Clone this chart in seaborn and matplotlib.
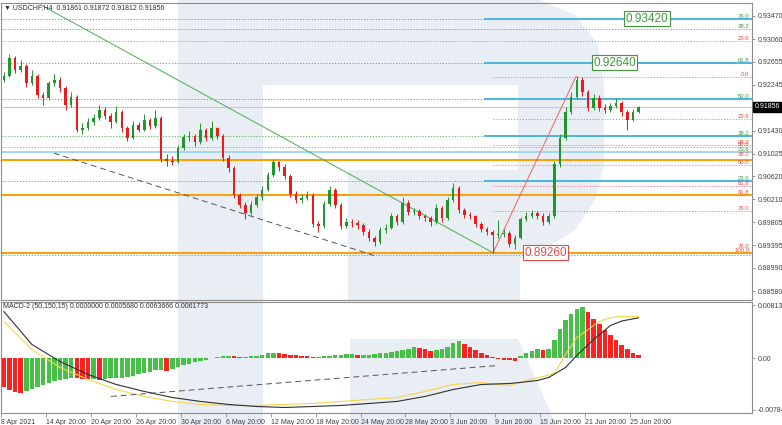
import numpy as np
import pandas as pd
import matplotlib
matplotlib.use("Agg")
import matplotlib.pyplot as plt
from matplotlib.patches import Polygon
import seaborn as sns

# ---------------- data ----------------
first_open = 0.92330
close = [0.92403, 0.92723, 0.92510, 0.92581, 0.92278, 0.92403, 0.92065, 0.92012, 0.92278, 0.92332,
         0.92190, 0.91887, 0.92030, 0.91443, 0.91478, 0.91585, 0.91656, 0.91798, 0.91692, 0.91585,
         0.91763, 0.91478, 0.91301, 0.91532, 0.91443, 0.91621, 0.91514, 0.91656, 0.90930, 0.90890,
         0.90874, 0.91123, 0.91318, 0.91336, 0.91230, 0.91443, 0.91301, 0.91478, 0.91336, 0.90945,
         0.90767, 0.90287, 0.90109, 0.89967, 0.90109, 0.90252, 0.90376, 0.90643, 0.90874, 0.90785,
         0.90625, 0.90305, 0.90198, 0.90234, 0.90287, 0.89771, 0.89736, 0.90127, 0.90376, 0.90109,
         0.89736, 0.89807, 0.89789, 0.89754, 0.89629, 0.89523, 0.89452, 0.89665, 0.89700, 0.89913,
         0.89807, 0.90145, 0.89985, 0.90000, 0.89913, 0.89878, 0.89807, 0.90056, 0.89878, 0.90198,
         0.90411, 0.90020, 0.89931, 0.89913, 0.89771, 0.89683, 0.89629, 0.89576, 0.89594, 0.89610,
         0.89416, 0.89523, 0.89860, 0.89913, 0.89967, 0.89913, 0.89807, 0.89913, 0.90838, 0.91301,
         0.91763, 0.92030, 0.92332, 0.92118, 0.91834, 0.92012, 0.91834, 0.91798, 0.91869, 0.91923,
         0.91763, 0.91621, 0.91763, 0.91856]
high = [0.92470, 0.92790, 0.92760, 0.92680, 0.92620, 0.92510, 0.92440, 0.92120, 0.92310, 0.92440,
        0.92380, 0.92230, 0.92120, 0.92070, 0.91560, 0.91660, 0.91730, 0.91880, 0.91850, 0.91740,
        0.91870, 0.91800, 0.91520, 0.91600, 0.91580, 0.91720, 0.91660, 0.91800, 0.91700, 0.91020,
        0.90980, 0.91180, 0.91380, 0.91420, 0.91380, 0.91560, 0.91480, 0.91600, 0.91500, 0.91370,
        0.90990, 0.90800, 0.90330, 0.90160, 0.90180, 0.90300, 0.90440, 0.90700, 0.90930, 0.90900,
        0.90830, 0.90660, 0.90350, 0.90300, 0.90360, 0.90320, 0.89830, 0.90180, 0.90450, 0.90420,
        0.90150, 0.89880, 0.89860, 0.89840, 0.89790, 0.89680, 0.89560, 0.89720, 0.89780, 0.89970,
        0.89950, 0.90260, 0.90200, 0.90060, 0.90040, 0.89950, 0.89920, 0.90120, 0.90090, 0.90260,
        0.90500, 0.90440, 0.90060, 0.89990, 0.89940, 0.89800, 0.89720, 0.89660, 0.89840, 0.89680,
        0.89640, 0.89580, 0.89900, 0.89990, 0.90020, 0.90010, 0.89960, 0.89960, 0.90900, 0.91380,
        0.91850, 0.92120, 0.92403, 0.92380, 0.92150, 0.92080, 0.92060, 0.91900, 0.91930, 0.92020,
        0.91960, 0.91800, 0.91820, 0.91872]
low = [0.92290, 0.92380, 0.92460, 0.92480, 0.92200, 0.92240, 0.92010, 0.91880, 0.91980, 0.92230,
       0.92120, 0.91800, 0.91850, 0.91400, 0.91370, 0.91440, 0.91540, 0.91620, 0.91640, 0.91480,
       0.91560, 0.91400, 0.91250, 0.91280, 0.91400, 0.91420, 0.91460, 0.91480, 0.90880, 0.90800,
       0.90820, 0.90850, 0.91080, 0.91250, 0.91150, 0.91200, 0.91250, 0.91270, 0.91280, 0.90900,
       0.90700, 0.90230, 0.90050, 0.89860, 0.89940, 0.90070, 0.90200, 0.90350, 0.90600, 0.90720,
       0.90570, 0.90250, 0.90140, 0.90150, 0.90200, 0.89720, 0.89630, 0.89700, 0.90100, 0.90050,
       0.89680, 0.89700, 0.89720, 0.89690, 0.89570, 0.89470, 0.89380, 0.89420, 0.89620, 0.89680,
       0.89750, 0.89780, 0.89930, 0.89940, 0.89860, 0.89820, 0.89740, 0.89780, 0.89800, 0.89850,
       0.90160, 0.89970, 0.89880, 0.89860, 0.89720, 0.89630, 0.89570, 0.89260, 0.89530, 0.89540,
       0.89360, 0.89320, 0.89500, 0.89820, 0.89880, 0.89860, 0.89760, 0.89780, 0.89880, 0.90780,
       0.91260, 0.91720, 0.91990, 0.92050, 0.91780, 0.91800, 0.91780, 0.91740, 0.91760, 0.91830,
       0.91700, 0.91443, 0.91600, 0.91740]

# MACD histogram (x 1e-4)
hist_e4 = [-44, -48, -51, -53, -50, -47, -44, -41, -38, -35, -33, -31, -29,
           -30, -31, -32, -32, -33, -31, -30, -30, -29, -28, -26, -24, -22, -20,
           -18, -18, -19, -16, -13, -10, -8, -6, -4, -2, 0, 2, 3,
           4, 3, 2, 2, 3, 4, 6, 8, 9, 8, 7, 6, 5,
           4, 3, 2, 2, 3, 4, 5, 6, 7, 7, 6, 6, 6, 7, 8, 9, 10, 11,
           13, 14, 18, 16, 14, 11, 13, 15, 18, 24, 26, 22, 17, 13, 9, 5, 2, -1, -2, -3,
           -4, 3, 8, 12, 14, 13, 14, 28, 45, 58, 68, 76, 78, 70, 60, 52, 44, 36, 28, 20,
           14, 9, 6]
# MACD lines (x 1e-4) at candle indices
yellow_idx = [0, 5, 10, 15, 20, 25, 30, 35, 40, 45, 50, 55, 60, 65, 70, 75, 80, 85, 88, 90,
              93, 96, 98, 100, 102, 104, 106, 108, 110, 113]
yellow_e4 = [56.3, 13.7, -13.7, -32.0, -47.2, -57.8, -65.4, -70.0, -71.5, -71.5, -70.0, -68.5,
             -65.4, -62.4, -59.4, -50.2, -39.6, -36.5, -39.6, -41.1, -33.5, -27.4, -22.8, 6.1,
             32.0, 44.1, 56.3, 62.0, 64.0, 63.7]
black_idx = [0, 5, 10, 15, 20, 25, 30, 35, 40, 45, 50, 55, 60, 65, 70, 75, 80, 85, 90, 92,
             95, 97, 100, 102, 105, 108, 110, 113]
black_e4 = [71.5, 21.3, -4.6, -24.4, -39.6, -50.2, -59.4, -65.4, -70.0, -73.1, -74.6, -73.1,
            -71.5, -68.5, -65.4, -57.8, -47.2, -39.6, -38.1, -36.5, -33.5, -28.9, -13.7, 4.6,
            28.9, 50.2, 57.0, 61.8]

date_labels = ["8 Apr 2021", "14 Apr 20:00", "20 Apr 20:00", "26 Apr 20:00", "30 Apr 20:00",
               "6 May 20:00", "12 May 20:00", "18 May 20:00", "24 May 20:00", "28 May 20:00",
               "3 Jun 20:00", "9 Jun 20:00", "15 Jun 20:00", "21 Jun 20:00", "25 Jun 20:00"]
price_ticks = [0.93470, 0.93060, 0.92655, 0.92245, 0.91430, 0.91025, 0.90620, 0.90210,
               0.89805, 0.89395, 0.88990, 0.88580]
last_price = 0.91856
macd_ticks = [0.0081373, 0.0, -0.0078430]
macd_tick_labels = ["0.0081373", "0.00", "-0.0078430"]

orange_levels = [0.90904, 0.90293, 0.89265]
cyan_full = [0.91052]
cyan_right = [0.93420, 0.92640, 0.91989, 0.91342, 0.90531]
green_dotted = [0.93420, 0.93238, 0.92640, 0.91989, 0.91342, 0.90531, 0.89222]
red_full = [0.93031, 0.91136]
red_right = [0.92380, 0.91639, 0.91174, 0.90821, 0.90442, 0.90003]

fib_text = ["76.0", "38.2", "23.6", "61.8", "0.0", "50.0", "23.6", "38.2", "38.2", "50.0",
            "23.6", "38.2", "50.0", "23.6", "61.8", "61.8", "76.0", "76.0", "100.0"]
fib_price = [0.93420, 0.93238, 0.93031, 0.92640, 0.92380, 0.91989, 0.91639, 0.91342, 0.91174,
             0.91136, 0.91052, 0.90960, 0.90821, 0.90531, 0.90442, 0.90293, 0.90003, 0.89330, 0.89265]
fib_color = ["g", "g", "r", "g", "r", "g", "r", "g", "r", "r", "g", "r", "r", "g", "r", "r",
             "r", "r", "r"]

box_labels = ["0.93420", "0.92640", "0.89260"]
box_prices = [0.93420, 0.92640, 0.89260]
box_idx = [114.5, 108.7, 96.4]
box_colors = ["#3c9a3c", "#3c9a3c", "#f04848"]

# ---------------- figure ----------------
sns.set_theme(style="white")
plt.rcParams['font.family'] = ['Liberation Sans', 'DejaVu Sans']

W, H = 782, 425
fig = plt.figure(figsize=(W / 100, H / 100), dpi=100)
fig.patch.set_facecolor("white")


def fx(x):
    return x / W


def fy(y):
    return 1 - y / H


ax = fig.add_axes([fx(1), fy(300), fx(752) - fx(1), fy(3) - fy(300)])
axm = fig.add_axes([fx(1), fy(413), fx(752) - fx(1), fy(302) - fy(413)], sharex=ax)
for a in (ax, axm):
    a.set_facecolor("none")
    for s in a.spines.values():
        s.set_color("#8c8c8c")
        s.set_linewidth(0.8)

# watermark "R"
wm = "#e9edf4"
shapes = [
    [(178, 0), (178, 425), (263, 425), (263, 0)],
    [(263, 0), (540, 0), (575, 15), (598, 45), (604, 85), (604, 165), (595, 200),
     (575, 230), (540, 252), (520, 260), (520, 300), (348, 300), (348, 170), (518, 170),
     (518, 85), (263, 85)],
    [(350, 339), (518, 339), (556, 425), (350, 425)],
]
for s in shapes:
    fig.add_artist(Polygon([(fx(x), fy(y)) for x, y in s], closed=True, transform=fig.transFigure,
                           facecolor=wm, edgecolor="none", zorder=-5))

n = len(close)
idx = np.arange(n)
opens = [first_open] + close[:-1]
df = pd.DataFrame({"i": idx, "open": opens, "close": close, "high": high, "low": low})
df["up"] = df["close"] >= df["open"]

x0 = (1 - 2.8) / 5.625
x1 = (752 - 2.8) / 5.625
ax.set_xlim(x0, x1)
ax.set_ylim(0.88421, 0.93701)

# horizontal levels
ax.hlines(green_dotted, x0, x1, colors="#4cab4c", linestyles=(0, (1.5, 2)), lw=0.6, zorder=1)
ax.hlines(red_full, x0, x1, colors="#f07070", linestyles=(0, (1.5, 2)), lw=0.6, zorder=1)
ax.hlines(red_right, 87.1, x1, colors="#f07070", linestyles=(0, (1.5, 2)), lw=0.6, zorder=1)
ax.hlines(cyan_full, x0, x1, colors="#9fd8ef", lw=1.4, zorder=1)
ax.hlines(cyan_right, 85.4, x1, colors="#4cb6dc", lw=1.4, zorder=1)
ax.hlines(orange_levels, x0, x1, colors="#f8a000", lw=1.4, zorder=1)
ax.hlines([last_price], x0, x1, colors="#c8c8c8", lw=0.8, zorder=1)

# trend lines
sns.lineplot(x=[6.6, 87.1], y=[0.93666, 0.89260], ax=ax, color="#4caf4c", lw=0.7, zorder=2)
sns.lineplot(x=[87.1, 101.9], y=[0.89260, 0.92403], ax=ax, color="#f06060", lw=0.7, zorder=2)
sns.lineplot(x=[8.9, 66.2], y=[0.91032, 0.89203], ax=ax, color="#555555", lw=0.7,
             linestyle=(0, (6, 4)), zorder=2)

# candles
bull, bear = "#22962a", "#f01818"
for r in df.itertuples():
    col = bull if r.up else bear
    ax.vlines(r.i, r.low, r.high, color=col, lw=0.7, zorder=3)
    lo, hi = min(r.open, r.close), max(r.open, r.close)
    ax.bar(r.i, max(hi - lo, 0.00003), bottom=lo, width=0.45, color=col, lw=0, zorder=4)

# fib labels
for t, p, c in zip(fib_text, fib_price, fib_color):
    ax.text(132.7, p, t, ha="right", va="bottom", fontsize=4.3,
            color="#3c9a3c" if c == "g" else "#f04848", zorder=6)

for t, p, xi, c in zip(box_labels, box_prices, box_idx, box_colors):
    ax.text(xi, p, t, ha="center", va="center", fontsize=8.5, color=c, zorder=7,
            bbox=dict(boxstyle="square,pad=0.12", fc="white", ec=c, lw=0.8))

# y axis
ax.yaxis.tick_right()
ax.set_yticks(price_ticks)
ax.set_yticklabels([f"{v:.5f}" for v in price_ticks])
ax.tick_params(axis="y", which="both", right=True, length=2, width=0.6, color="#8c8c8c",
               labelsize=5, labelcolor="#404040", pad=2)
ax.tick_params(axis="x", bottom=False, labelbottom=False)
ax.text(1.003, last_price, f"{last_price:.5f}", transform=ax.get_yaxis_transform(),
        ha="left", va="center", fontsize=5, color="white", zorder=8,
        bbox=dict(boxstyle="square,pad=0.2", fc="black", ec="black"))

# MACD
hist = np.array(hist_e4) * 1e-4
hcol = ["#46c046" if (k > 0 and hist[k] >= hist[k - 1]) else "#ff2020" for k in range(n)]
axm.bar(idx, hist, width=0.8, color=hcol, lw=0, zorder=2)
sns.lineplot(x=yellow_idx, y=np.array(yellow_e4) * 1e-4, ax=axm, color="#f5d54a", lw=0.8, zorder=3)
sns.lineplot(x=black_idx, y=np.array(black_e4) * 1e-4, ax=axm, color="#303030", lw=0.8, zorder=3)
sns.lineplot(x=[19.1, 87.9], y=[-0.00578, -0.00107], ax=axm, color="#555555", lw=0.7,
             linestyle=(0, (6, 4)), zorder=3)
axm.set_ylim(-0.008300, 0.008594)
axm.yaxis.tick_right()
axm.set_yticks(macd_ticks)
axm.set_yticklabels(macd_tick_labels)
axm.tick_params(axis="y", right=True, length=2, width=0.6, color="#8c8c8c", labelsize=5,
                labelcolor="#404040", pad=2)
tick_pos = [8 * k - 0.5 for k in range(len(date_labels))]
axm.set_xticks(tick_pos)
axm.set_xticklabels(date_labels)
axm.tick_params(axis="x", bottom=True, length=3, width=0.6, color="#8c8c8c", labelsize=5,
                labelcolor="#404040", pad=1)
for lbl in axm.get_xticklabels():
    lbl.set_ha("left")
for a in (ax, axm):
    a.set_xlabel("")
    a.set_ylabel("")
    if a.get_legend():
        a.get_legend().remove()

# headers
fig.text(fx(4), fy(8), "\u25bc USDCHF,H4  0.91861 0.91872 0.91812 0.91856", fontsize=5,
         color="#303030", va="center", ha="left")
fig.text(fx(3), fy(307), "MACD-2 (50,150,15) 0.0000000 0.0005680 0.0063666 0.0061773",
         fontsize=5, color="#303030", va="center", ha="left")

fig.savefig("out.png", dpi=100)
